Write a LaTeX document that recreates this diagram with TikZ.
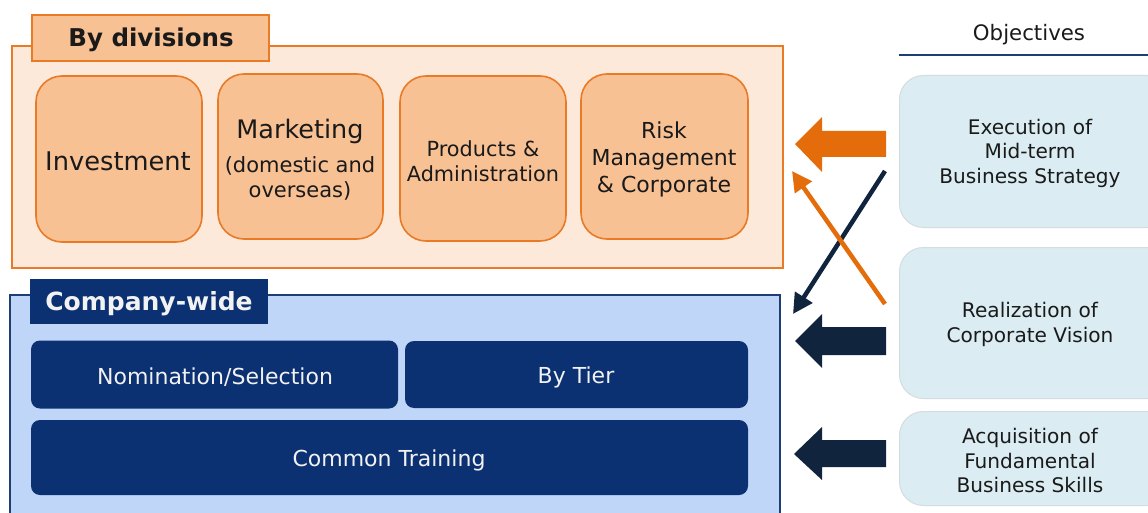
\documentclass[tikz,border=0pt]{standalone}
\usepackage{fontspec}
\setmainfont{DejaVu Sans}
\usetikzlibrary{arrows.meta}
\definecolor{orbord}{HTML}{E97A26}
\definecolor{orfill}{HTML}{F8C194}
\definecolor{orlight}{HTML}{FDE9DA}
\definecolor{orarrow}{HTML}{E46C0A}
\definecolor{navy}{HTML}{0B3172}
\definecolor{bluefill}{HTML}{C0D6F9}
\definecolor{blueborder}{HTML}{1F3E75}
\definecolor{darkarrow}{HTML}{10243E}
\definecolor{objfill}{HTML}{DBEDF3}
\definecolor{objborder}{HTML}{D3DCE0}
\definecolor{txt}{HTML}{1A1A1A}
\definecolor{wtxt}{HTML}{F2F2F2}
\tikzset{
  divbox/.style={draw=orbord, fill=orfill, line width=1.6pt, rounded corners=26pt},
  divtext/.style={text=txt, align=center},
  navybox/.style={fill=navy, rounded corners=9pt},
  navytext/.style={text=wtxt, font=\fontsize{22}{26}\selectfont},
  objbox/.style={draw=objborder, fill=objfill, line width=1pt, rounded corners=24pt},
  objtext/.style={text=txt, align=center, font=\fontsize{20.1}{24.5}\selectfont},
  thinarrow/.style={line width=4.5pt, -{Triangle[length=20pt,width=20pt]}}
}
\begin{document}
\begin{tikzpicture}[x=1pt,y=-1pt]
\clip (0,0) rectangle (1148,513);
\fill[white] (0,0) rectangle (1148,513);
% By divisions group
\draw[draw=orbord, fill=orlight, line width=1.5pt] (12,46) rectangle (783,268);
\node[draw=orbord, fill=orfill, line width=1.5pt, minimum width=237pt, minimum height=46pt, inner sep=0pt] (divtab) at (150.5,38) {};
\node[text=txt, font=\fontsize{24.5}{28}\selectfont\bfseries] (divtabt) at (151,40) {By divisions};
\node[divbox, minimum width=166pt, minimum height=166pt] (inv) at (119,159) {};
\node[divtext, font=\fontsize{25.7}{30}\selectfont] (invt) at (118,161.5) {Investment};
\node[divbox, minimum width=165pt, minimum height=165pt] (mkt) at (300.5,156.5) {};
\node[divtext, font=\fontsize{21}{24.5}\selectfont] (mktt) at (300,159.5) {{\fontsize{25.5}{30}\selectfont Marketing}\\[10pt](domestic and\\overseas)};
\node[divbox, minimum width=166pt, minimum height=165pt] (prod) at (483,158.5) {};
\node[divtext, font=\fontsize{20.8}{24.5}\selectfont] (prodt) at (483,161) {Products \&\\Administration};
\node[divbox, minimum width=167pt, minimum height=165pt] (risk) at (664.5,156.5) {};
\node[divtext, font=\fontsize{22}{27}\selectfont] (riskt) at (664,159) {Risk\\Management\\\& Corporate};
% Company-wide group
\draw[draw=blueborder, fill=bluefill, line width=1.3pt] (10,295) rectangle (780,530);
\node[fill=navy, minimum width=238pt, minimum height=45pt, inner sep=0pt] (cwtab) at (149,301.5) {};
\node[text=wtxt, font=\fontsize{25}{28}\selectfont\bfseries] (cwtabt) at (149,303.5) {Company-wide};
\node[navybox, minimum width=367pt, minimum height=68pt] (nom) at (214.5,374.5) {};
\node[navytext] (nomt) at (215,377) {Nomination/Selection};
\node[navybox, minimum width=343pt, minimum height=67pt] (tier) at (576.5,374.5) {};
\node[navytext] (tiert) at (576,377.5) {By Tier};
\node[navybox, minimum width=717pt, minimum height=75pt] (common) at (389.5,457.5) {};
\node[navytext] (commont) at (389,460) {Common Training};
% Objectives
\node[text=txt, font=\fontsize{21.3}{24}\selectfont] (objhead) at (1029,34.5) {Objectives};
\coordinate (ruleL) at (899,55);
\coordinate (ruleR) at (1150,55);
\draw[blueborder, line width=1.2pt] (ruleL) -- (ruleR);
\node[objbox, minimum width=272pt, minimum height=152pt, anchor=north west] (obj1) at (899,75) {};
\node[objbox, minimum width=272pt, minimum height=151pt, anchor=north west] (obj2) at (899,247) {};
\node[objbox, minimum width=272pt, minimum height=94pt, anchor=north west] (obj3) at (899,411) {};
\node[objtext] (obj1t) at (1030,153) {Execution of\\Mid-term\\Business Strategy};
\node[objtext] (obj2t) at (1030,324.5) {Realization of\\Corporate Vision};
\node[objtext] (obj3t) at (1030,461) {Acquisition of\\Fundamental\\Business Skills};
% block arrows
\fill[orarrow] (886,131) -- (822,131) -- (822,117) -- (795,144) -- (822,172) -- (822,157) -- (886,157) -- cycle;
\fill[darkarrow] (886,327) -- (822,327) -- (822,314) -- (795,341) -- (822,368) -- (822,355) -- (886,355) -- cycle;
\fill[darkarrow] (886,440) -- (822,440) -- (822,427) -- (794,454) -- (822,480) -- (822,467) -- (886,467) -- cycle;
% crossing arrows
\coordinate (oS) at (885,304);
\coordinate (oE) at (792,171);
\coordinate (nS) at (885,171);
\coordinate (nE) at (793,314);
\draw[thinarrow, darkarrow] (nS) -- (nE);
\draw[thinarrow, orarrow] (oS) -- (oE);
\end{tikzpicture}
\end{document}
